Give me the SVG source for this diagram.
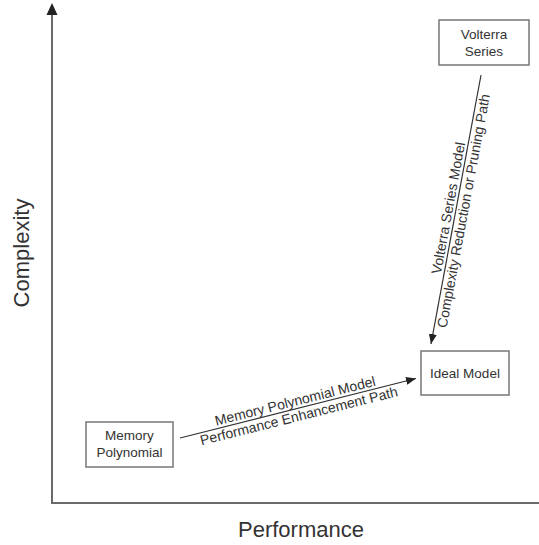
<svg xmlns="http://www.w3.org/2000/svg" width="539" height="545" viewBox="0 0 539 545">
<style>
.box{fill:#fff;stroke:#777;stroke-width:1.5}
.t{font-family:"Liberation Sans",Arial,sans-serif;font-size:13.5px;fill:#333;text-anchor:middle}
.p{font-family:"Liberation Sans",Arial,sans-serif;font-size:14px;fill:#333;text-anchor:middle}
.ax{font-family:"Liberation Sans",Arial,sans-serif;font-size:22px;fill:#333;text-anchor:middle}
.axis{stroke:#6a6a6a;stroke-width:2;fill:none}
.conn{stroke:#333;stroke-width:1.2;fill:none}
</style>
<defs>
<marker id="ah" markerUnits="userSpaceOnUse" markerWidth="10" markerHeight="8" refX="10" refY="4" orient="auto">
<path d="M0,0 L10,4 L0,8 z" fill="#222"/>
</marker>
</defs>
<rect width="539" height="545" fill="#fff"/>
<g id="axes">
<path class="axis" d="M52,12 V503 H539"/>
<path d="M52,3 L46.5,15 L57.5,15 z" fill="#222"/>
<text class="ax" transform="translate(29,253) rotate(-90)">Complexity</text>
<text class="ax" x="301" y="537">Performance</text>
</g>
<g id="connectors">
<line class="conn" x1="180" y1="438" x2="416" y2="378.5" marker-end="url(#ah)"/>
<g transform="translate(297,408.5) rotate(-14.09)">
<text class="p" x="0" y="-3">Memory Polynomial Model</text>
<text class="p" x="0" y="12.5">Performance Enhancement Path</text>
</g>
<line class="conn" x1="481" y1="75" x2="431" y2="344" marker-end="url(#ah)"/>
<g transform="translate(456,209.5) rotate(-79.47)">
<text class="p" x="0" y="-3">Volterra Series Model</text>
<text class="p" x="0" y="12.5">Complexity Reduction or Pruning Path</text>
</g>
</g>
<g id="volterra">
<rect class="box" x="439" y="20" width="90" height="45"/>
<text class="t" x="484" y="39">Volterra</text>
<text class="t" x="484" y="56">Series</text>
</g>
<g id="ideal">
<rect class="box" x="421" y="351" width="88" height="44"/>
<text class="t" x="465" y="378">Ideal Model</text>
</g>
<g id="memory">
<rect class="box" x="86" y="422" width="87" height="45"/>
<text class="t" x="129.5" y="440">Memory</text>
<text class="t" x="129.5" y="457">Polynomial</text>
</g>
</svg>
